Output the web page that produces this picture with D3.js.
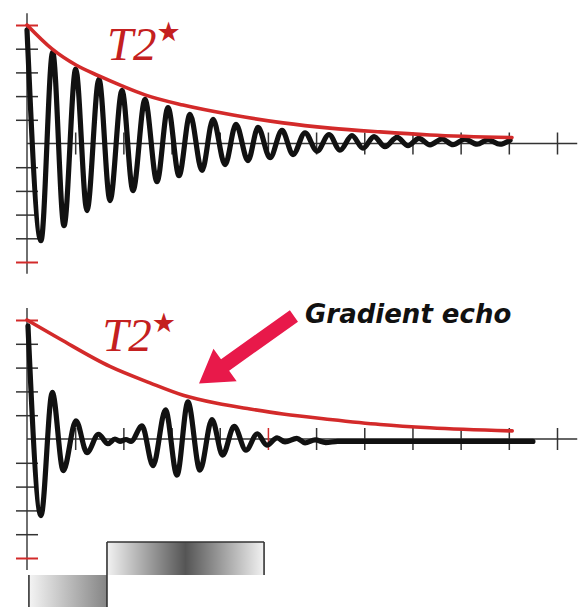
<!DOCTYPE html>
<html><head><meta charset="utf-8">
<script src="https://cdn.jsdelivr.net/npm/d3@7/dist/d3.min.js"></script>
<style>html,body{margin:0;padding:0;background:#fff}svg{display:block}</style>
</head><body>
<svg id="chart" width="579" height="607"></svg>
<script>
// ---------- data ----------
// time in tick units (0..11), amplitude in tick units (-5..5)
const xTicks = [1,2,3,4,5,6,7,8,9,10,11];
const yTicks = [-5,-4,-3,-2,-1,1,2,3,4,5];

// Top panel: free induction decay (extrema of the oscillation)
const topSignalT = [0,0.29,0.533,0.768,1.011,1.245,1.494,1.723,1.972,2.2,2.449,2.698,2.927,3.155,3.383,3.632,3.861,4.11,4.338,4.587,4.795,5.044,5.293,5.521,5.77,6.02,6.268,6.496,6.745,6.974,7.202,7.43,7.68,7.908,8.136,8.365,8.614,8.842,9.09,9.34,9.568,9.817,10.025];
const topSignalV = [4.8,-4.1,3.85,-3.47,3.14,-2.83,2.72,-2.41,2.24,-1.99,1.86,-1.61,1.52,-1.36,1.23,-1.14,1.02,-0.89,0.81,-0.72,0.68,-0.6,0.55,-0.47,0.45,-0.32,0.38,-0.28,0.33,-0.2,0.29,-0.13,0.26,-0.09,0.22,-0.06,0.19,-0.05,0.18,-0.03,0.16,-0.03,0.14];
const topEnvT = [0,0.519,1.017,1.494,1.972,2.449,3.238,4.276,5.313,6.29,7.328,8.365,10.066];
const topEnvV = [5.0,3.99,3.31,2.85,2.43,2.05,1.62,1.2,0.87,0.65,0.49,0.36,0.25];

// Bottom panel: gradient echo
const botSignalT = [0.02,0.29,0.525,0.753,1.017,1.245,1.484,1.68,1.826,1.93,2.055,2.16,2.387,2.615,2.875,3.113,3.34,3.59,3.84,4.06,4.3,4.545,4.78,4.98,5.19,5.355,5.6,5.77,5.98,6.2,6.45,6.7,10.5];
const botSignalV = [4.75,-3.22,1.96,-1.33,0.76,-0.57,0.2,-0.2,0.0,-0.1,-0.02,-0.1,0.55,-1.12,1.22,-1.52,1.56,-1.31,0.82,-0.68,0.53,-0.47,0.22,-0.26,0.05,-0.12,0.03,-0.16,-0.04,-0.15,-0.1,-0.1,-0.1];
const botEnvT = [0,0.685,1.72,2.55,3.24,3.94,4.63,5.31,6.29,7.33,8.36,10.07];
const botEnvV = [5.0,4.2,3.05,2.36,1.84,1.5,1.26,1.05,0.82,0.61,0.47,0.34];

// Gradient lobes (time start, time end, polarity)
const gradStart = [0.04,1.66];
const gradEnd   = [1.66,4.92];
const gradAmp   = [-1,1];

// Annotation
const labelT2 = "T2";
const labelStar = "\u2605";
const echoLabel = "Gradient echo";
const arrowTail = [5.54,5.17];   // (t, v) in bottom panel units
const arrowTip  = [3.57,2.33];

// ---------- drawing ----------
const svg = d3.select("#chart");
const x = d3.scaleLinear().domain([0,11]).range([27,557]);
const yTop = d3.scaleLinear().domain([-5,5]).range([262,25]);
const yBot = d3.scaleLinear().domain([-5,5]).range([558,320]);
const gY = d3.scaleLinear().domain([-1,1]).range([608,542]);

const RED = "#d32a2a";
const INK = "#111";

const defs = svg.append("defs");
const g1 = defs.append("linearGradient").attr("id","gLeft").attr("x1","0").attr("x2","1").attr("y1","0").attr("y2","0");
g1.append("stop").attr("offset","0").attr("stop-color","#f4f4f4");
g1.append("stop").attr("offset","1").attr("stop-color","#858585");
const g2 = defs.append("linearGradient").attr("id","gRight").attr("x1","0").attr("x2","1").attr("y1","0").attr("y2","0");
g2.append("stop").attr("offset","0").attr("stop-color","#f2f2f2");
g2.append("stop").attr("offset","0.5").attr("stop-color","#555");
g2.append("stop").attr("offset","1").attr("stop-color","#f2f2f2");

function drawPanel(y, sigT, sigV, envT, envV, redXTick){
  const g = svg.append("g");
  g.append("line").attr("x1",x(0)).attr("x2",x(0)).attr("y1",y(5.5)).attr("y2",y(-5.5))
    .attr("stroke","#333").attr("stroke-width",1.4);
  g.append("line").attr("x1",x(0)).attr("x2",x(11.42)).attr("y1",y(0)).attr("y2",y(0))
    .attr("stroke","#333").attr("stroke-width",1.4);
  const ya = g.append("g").attr("transform",`translate(${x(0)-11},0)`)
    .call(d3.axisLeft(y).tickValues(yTicks).tickSize(-22).tickFormat(""));
  ya.select(".domain").remove();
  ya.selectAll(".tick line").attr("stroke",d=>Math.abs(d)===5?RED:"#333").attr("stroke-width",d=>Math.abs(d)===5?2:1.5);
  const xa = g.append("g").attr("transform",`translate(0,${y(0)-11})`)
    .call(d3.axisBottom(x).tickValues(xTicks).tickSize(22).tickFormat(""));
  xa.select(".domain").remove();
  xa.selectAll(".tick line").attr("stroke",d=>d===redXTick?RED:"#333").attr("stroke-width",1.5);
  const line = d3.line().x(d=>x(d[0])).y(d=>y(d[1])).curve(d3.curveMonotoneX);
  g.append("path").datum(d3.zip(sigT,sigV)).attr("d",line)
    .attr("fill","none").attr("stroke",INK).attr("stroke-width",5.2).attr("stroke-linejoin","round").attr("stroke-linecap","round");
  g.append("path").datum(d3.zip(envT,envV)).attr("d",line)
    .attr("fill","none").attr("stroke",RED).attr("stroke-width",3.6).attr("stroke-linecap","round");
  return g;
}

drawPanel(yTop, topSignalT, topSignalV, topEnvT, topEnvV, null);
drawPanel(yBot, botSignalT, botSignalV, botEnvT, botEnvV, 5);

function t2Label(px, py){
  const t = svg.append("text").attr("x",px).attr("y",py)
    .attr("font-family","'Liberation Serif', 'DejaVu Serif', serif").attr("font-style","italic")
    .attr("font-size",47).attr("fill","#c42020");
  t.append("tspan").text(labelT2);
  t.append("tspan").attr("font-size",27).attr("dy",-19).attr("dx",0).attr("font-style","normal")
    .attr("font-family","'DejaVu Sans', sans-serif").text(labelStar);
}
t2Label(x(1.66), yTop(3.52));
t2Label(x(1.56), yBot(3.68));

(function(){
  const tx = x(arrowTail[0]), ty = yBot(arrowTail[1]);
  const hx = x(arrowTip[0]), hy = yBot(arrowTip[1]);
  const len = Math.hypot(hx-tx, hy-ty);
  const ux = (hx-tx)/len, uy = (hy-ty)/len;
  const px = -uy, py = ux;
  const sw = 7, hw = 20, hl = 32;
  const bx = hx - ux*hl, by = hy - uy*hl;
  const pts = [
    [tx+px*sw, ty+py*sw],[bx+px*sw, by+py*sw],[bx+px*hw, by+py*hw],[hx,hy],
    [bx-px*hw, by-py*hw],[bx-px*sw, by-py*sw],[tx-px*sw, ty-py*sw]
  ];
  svg.append("polygon").attr("points",pts.map(p=>p.join(",")).join(" ")).attr("fill","#e8194a");
})();

svg.append("text").attr("x",305).attr("y",323)
  .attr("font-family","'DejaVu Sans', Verdana, sans-serif").attr("font-weight","bold").attr("font-style","oblique")
  .attr("font-size",26).attr("fill","#111").text(echoLabel);

const lobes = d3.range(gradStart.length).map(i=>({t0:gradStart[i],t1:gradEnd[i],a:gradAmp[i]}));
svg.selectAll("rect.lobe").data(lobes).enter().append("rect").attr("class","lobe")
  .attr("x",d=>x(d.t0)).attr("width",d=>x(d.t1)-x(d.t0))
  .attr("y",d=>Math.min(gY(0),gY(d.a))).attr("height",d=>Math.abs(gY(d.a)-gY(0)))
  .attr("fill",(d,i)=>i===0?"url(#gLeft)":"url(#gRight)");
const lo = svg.append("g").attr("stroke","#333").attr("stroke-width",1.6).attr("fill","none");
lo.append("line").attr("x1",x(gradStart[0])).attr("x2",x(gradStart[0])).attr("y1",gY(0)).attr("y2",gY(-1));
lo.append("line").attr("x1",x(gradStart[1])).attr("x2",x(gradStart[1])).attr("y1",gY(1)).attr("y2",gY(-1));
lo.append("line").attr("x1",x(gradStart[1])).attr("x2",x(gradEnd[1])).attr("y1",gY(1)).attr("y2",gY(1));
lo.append("line").attr("x1",x(gradEnd[1])).attr("x2",x(gradEnd[1])).attr("y1",gY(1)).attr("y2",gY(0));
</script>
</body></html>
